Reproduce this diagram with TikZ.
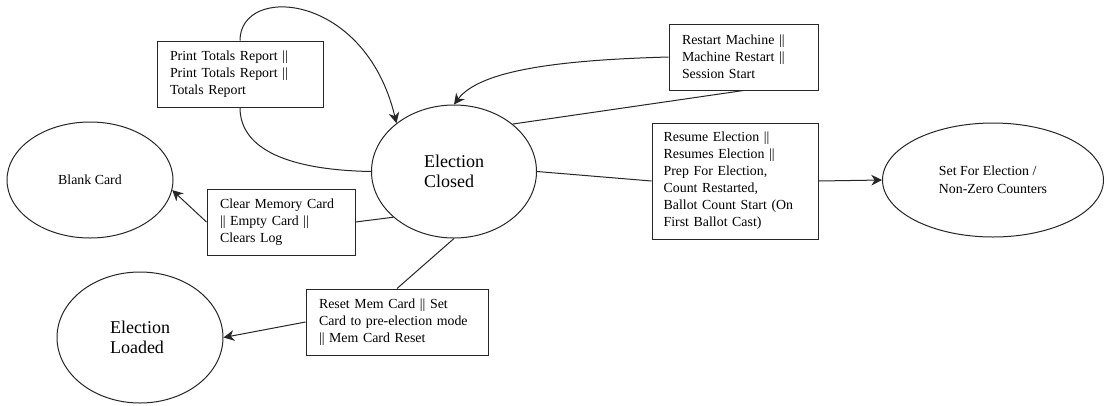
\documentclass[tikz,border=0pt]{standalone}
\usepackage{fontspec}
\setmainfont{Liberation Serif}
\usetikzlibrary{arrows.meta,shapes.geometric}
\newcommand{\boxfont}{\fontsize{10.4}{12.75}\selectfont}
\newcommand{\bigstatefont}{\fontsize{13.5}{15}\selectfont}
\newcommand{\smallstatefont}{\fontsize{10.4}{13.5}\selectfont}
\begin{document}
\begin{tikzpicture}[x=0.75pt,y=-0.75pt, line width=0.75pt,
  state/.style={ellipse, draw=black!85, inner sep=0pt, align=left},
  tbox/.style={draw=black!85, rectangle, align=left, inner xsep=9.75pt, inner ysep=0pt,
               minimum height=49.5pt, font=\boxfont},
  link/.style={draw=black!85},
  flow/.style={link, -{Stealth[length=8pt,width=8pt,inset=2.5pt]}}]
% canvas
\fill[white] (0,0) rectangle (1108,405);
\useasboundingbox (0,0) rectangle (1108,405);

% states
\node[state, minimum width=123.75pt, minimum height=99.75pt, font=\bigstatefont]
  (ec) at (454,171.5) {Election\\Closed};
\node[state, minimum width=124.5pt, minimum height=87pt, font=\smallstatefont]
  (bc) at (90,180) {Blank Card};
\node[state, minimum width=124.5pt, minimum height=98.25pt, font=\bigstatefont]
  (el) at (140,337.5) {Election\\Loaded};
\node[state, minimum width=165.75pt, minimum height=85.5pt, font=\smallstatefont]
  (sf) at (993,180) {Set For Election /\\Non-Zero Counters};

% transition labels
\node[tbox, text width=105pt] (pt) at (240,74)
  {Print Totals Report ||\\Print Totals Report ||\\Totals Report};
\node[tbox, text width=91.5pt] (cm) at (281,222)
  {Clear Memory Card\\|| Empty Card ||\\Clears Log};
\node[tbox, text width=92.25pt] (rs) at (743.5,57)
  {Restart Machine ||\\Machine Restart ||\\Session Start};
\node[tbox, text width=107pt, inner xsep=8.75pt, minimum height=87pt] (rm) at (735,181)
  {Resume Election ||\\Resumes Election ||\\Prep For Election,\\Count Restarted,\\Ballot Count Start (On\\First Ballot Cast)};
\node[tbox, text width=117pt] (rc) at (397,322)
  {Reset Mem Card || Set\\Card to pre-election mode\\|| Mem Card Reset};

% self loop through the totals report
\path[link] (ec.west) .. controls (290,170) and (240,150) .. (pt.south);
\path[flow] (pt.north) .. controls (240,-16) and (365,-8) .. (ec.140);

% restart loop
\path[link] (rs.south) -- (ec.39);
\path[flow] (rs.west) .. controls (560,60) and (480,70) .. (ec.north);

% resume election
\path[link] (ec.east) -- (rm.west);
\path[flow] (rm.east) -- (sf.west);

% clear memory card
\path[link] (ec.217) -- (cm.east);
\path[flow] (cm.west) -- (bc.-7);

% reset memory card
\path[link] (ec.south) -- (rc.north);
\path[flow] (rc.west) -- (el.east);
\end{tikzpicture}
\end{document}
